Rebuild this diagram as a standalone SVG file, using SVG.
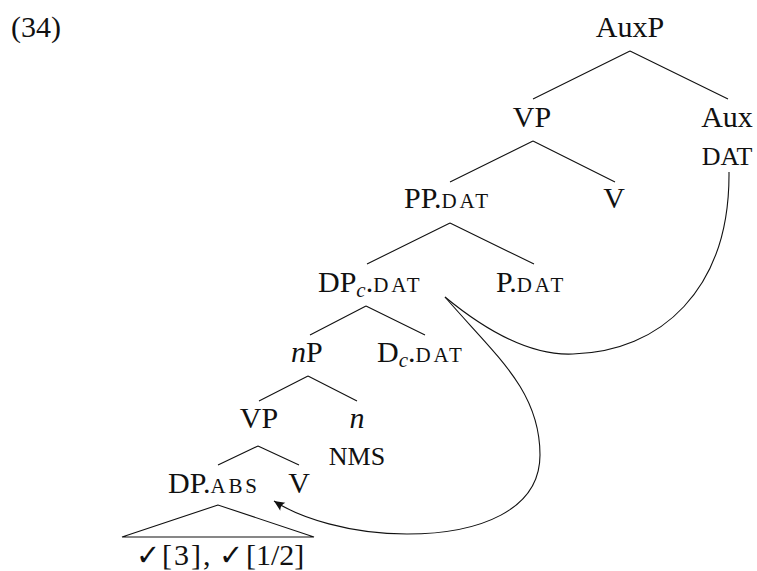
<svg xmlns="http://www.w3.org/2000/svg" width="757" height="571" viewBox="0 0 757 571">
  <style>
    .t { font-family: "Liberation Serif", "Times New Roman", serif; font-size: 30px; fill: #111; }
    .m { text-anchor: middle; }
    .sc { font-size: 21px; letter-spacing: 2.8px; }
    .scb { font-size: 26px; }
    .it { font-style: italic; }
    .sub { font-size: 21px; font-style: italic; }
    .chk { font-family: "DejaVu Sans", sans-serif; font-size: 29px; }
    .br { fill: none; stroke: #111; stroke-width: 1.1; }
    .mv { fill: none; stroke: #111; stroke-width: 1.1; }
  </style>
  <defs>
    <marker id="arr" markerUnits="userSpaceOnUse" markerWidth="14" markerHeight="14" refX="10" refY="5" orient="auto" viewBox="0 0 12 10">
      <path d="M10,5 L1,1 Q3.5,5 1,9 Z" fill="#111"/>
    </marker>
  </defs>

  <text class="t" x="11" y="37">(34)</text>

  <g id="connectors">
    <path class="br" d="M630,51 L533,99 M630,51 L728,99"/>
    <path class="br" d="M533,141 L450,182 M533,141 L615,182"/>
    <path class="br" d="M450,223 L367,264 M450,223 L534,264"/>
    <path class="br" d="M366,306 L310,335 M366,306 L425,335"/>
    <path class="br" d="M308,376 L259,401 M308,376 L357,401"/>
    <path class="br" d="M258,446 L218,465 M258,446 L299,465"/>
    <path class="br" d="M218,505 L122,537 L314,537 Z"/>
    <path id="move-aux" class="mv" d="M445,297 C485,330 530,356 573,354 C660,352 730,290 729,172"/>
    <path id="move-abs" class="mv" d="M445,297 C495,355 540,390 540,455 C540,510 480,534 407,534 C350,534 300,518 274,501" marker-end="url(#arr)"/>
  </g>

  <g id="AuxP"><text class="t m" x="630" y="37">AuxP</text></g>
  <g id="VP1"><text class="t m" x="532" y="127">VP</text></g>
  <g id="Aux">
    <text class="t m" x="727" y="127">Aux</text>
    <text class="t m scb" x="727" y="165">DAT</text>
  </g>
  <g id="PP"><text class="t" x="404" y="208">PP.<tspan class="sc">DAT</tspan></text></g>
  <g id="V1"><text class="t m" x="614" y="208">V</text></g>
  <g id="DPc"><text class="t" x="318" y="292">DP<tspan class="sub" dy="5">c</tspan><tspan dy="-5">.</tspan><tspan class="sc">DAT</tspan></text></g>
  <g id="P"><text class="t" x="496" y="292">P.<tspan class="sc">DAT</tspan></text></g>
  <g id="nP"><text class="t" x="291" y="362"><tspan class="it">n</tspan>P</text></g>
  <g id="Dc"><text class="t" x="377" y="362">D<tspan class="sub" dy="5">c</tspan><tspan dy="-5">.</tspan><tspan class="sc">DAT</tspan></text></g>
  <g id="VP2"><text class="t m" x="259" y="428">VP</text></g>
  <g id="n">
    <text class="t m it" x="357" y="428">n</text>
    <text class="t m scb" x="357" y="465">NMS</text>
  </g>
  <g id="DPabs"><text class="t" x="168" y="493">DP.<tspan class="sc">ABS</tspan></text></g>
  <g id="V2"><text class="t m" x="299" y="493">V</text></g>
  <g id="roots"><text class="t" y="565"><tspan class="chk" x="136">✓</tspan><tspan x="162" letter-spacing="2">[3],</tspan><tspan class="chk" x="219">✓</tspan><tspan x="246">[1/2]</tspan></text></g>
</svg>
